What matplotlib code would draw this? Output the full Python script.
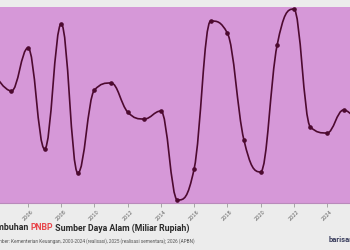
import matplotlib.pyplot as plt
from matplotlib.path import Path
from matplotlib.patches import PathPatch

# tahun dan pertumbuhan (skala relatif)
years = [2004, 2005, 2006, 2007, 2008, 2009, 2010, 2011, 2012, 2013, 2014, 2015,
         2016, 2017, 2018, 2019, 2020, 2021, 2022, 2023, 2024, 2025, 2026]
values = [128, 112, 155, 54, 179, 30, 113, 120, 91, 84, 92, 3,
          34, 182, 170, 63, 31, 158, 194, 76, 70, 93, 78]
tick_years = [2006, 2008, 2010, 2012, 2014, 2016, 2018, 2020, 2022, 2024]

title_parts = [("Pertumbuhan ", "#2a2a2a"), ("PNBP", "#e8474c"),
               (" Sumber Daya Alam (Miliar Rupiah)", "#2a2a2a")]
source = "Sumber: Kementerian Keuangan, 2000-2024 (realisasi), 2025 (realisasi sementara); 2026 (APBN)"

BG = "#ececec"
PLOT_BG = "#d698d8"
LINE = "#4d0a30"


def spline_path(xs, ys):
    # spline gaya highcharts (smoothing 1.5, tanpa overshoot di titik ekstrem)
    n = len(xs)
    sm, den = 1.5, 2.5
    right = [None] * n
    verts = [(xs[0], ys[0])]
    codes = [Path.MOVETO]
    for i in range(1, n):
        px, py = xs[i], ys[i]
        lc = (px, py)
        if i < n - 1:
            lx, ly = xs[i - 1], ys[i - 1]
            nx, ny = xs[i + 1], ys[i + 1]
            lcx = (sm * px + lx) / den
            lcy = (sm * py + ly) / den
            rcx = (sm * px + nx) / den
            rcy = (sm * py + ny) / den
            corr = (rcy - lcy) * (rcx - px) / (rcx - lcx) + py - rcy
            lcy += corr
            rcy += corr
            if lcy > ly and lcy > py:
                lcy = max(ly, py)
                rcy = 2 * py - lcy
            elif lcy < ly and lcy < py:
                lcy = min(ly, py)
                rcy = 2 * py - lcy
            if rcy > ny and rcy > py:
                rcy = max(ny, py)
                lcy = 2 * py - rcy
            elif rcy < ny and rcy < py:
                rcy = min(ny, py)
                lcy = 2 * py - rcy
            lc = (lcx, lcy)
            right[i] = (rcx, rcy)
        prev = right[i - 1] if right[i - 1] else (xs[i - 1], ys[i - 1])
        verts += [prev, lc, (px, py)]
        codes += [Path.CURVE4] * 3
    return Path(verts, codes)


def main():
    fig = plt.figure(figsize=(3.5, 2.5), dpi=100, facecolor=BG)
    ax = fig.add_axes([0, 1 - 203 / 250, 1, 196 / 250])
    ax.set_facecolor(PLOT_BG)

    ax.add_patch(PathPatch(spline_path(years, values), fill=False,
                           edgecolor=LINE, lw=1.2, zorder=3))
    ax.plot(years, values, "o", color=LINE, ms=2.3, zorder=4)

    ax.set_xlim(2004.314, 2025.386)
    ax.set_ylim(0, 196)
    ax.set_xticks(tick_years)
    ax.set_xticklabels([str(t) for t in tick_years], rotation=45, fontsize=3.6,
                       color="#606060", ha="center", va="top")
    ax.tick_params(axis="x", length=3, width=0.6, color="#9a9a9a", pad=1.5)
    ax.set_yticks([])
    for sp in ["top", "left", "right"]:
        ax.spines[sp].set_visible(False)
    ax.spines["bottom"].set_color("#b98abb")
    ax.spines["bottom"].set_linewidth(0.8)

    # judul rata kanan, bagian kiri terpotong seperti aslinya
    fig.canvas.draw()
    r = fig.canvas.get_renderer()
    x_right = 190 / 350
    for txt, col in reversed(title_parts):
        t = fig.text(x_right, 1 - 228 / 250, txt, color=col, fontsize=6.3,
                     fontweight="bold", family="Roboto", ha="right", va="center")
        bb = t.get_window_extent(r)
        x_right = bb.x0 / fig.bbox.width

    fig.text(195 / 350, 1 - 241 / 250, source, fontsize=3.45, color="#555555",
             family="Roboto", ha="right", va="center")
    fig.text(329 / 350, 1 - 240 / 250, "barisan.co", fontsize=5.5,
             color="#3b3f5e", fontweight="bold", family="Roboto",
             ha="left", va="center")

    fig.savefig("out.png", dpi=100, facecolor=BG)


if __name__ == "__main__":
    main()
